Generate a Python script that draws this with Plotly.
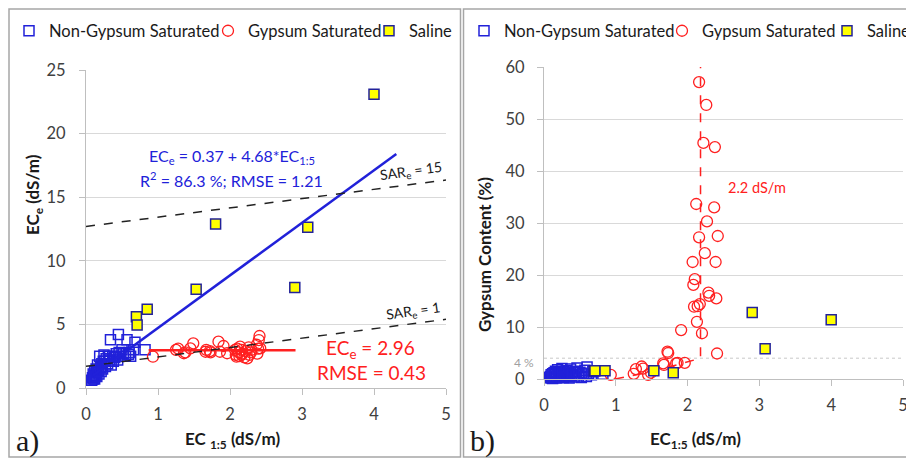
import plotly.graph_objects as go

# ---------------- data ----------------
# Non-gypsum saturated samples
ng_ec15 = [0.08, 0.09, 0.10, 0.10, 0.11, 0.12, 0.12, 0.13, 0.14, 0.15,
           0.15, 0.16, 0.17, 0.18, 0.19, 0.20, 0.21, 0.22, 0.23, 0.24,
           0.25, 0.26, 0.27, 0.28, 0.30, 0.31, 0.33, 0.34, 0.35, 0.37,
           0.38, 0.40, 0.42, 0.44, 0.45, 0.46, 0.48, 0.50, 0.52, 0.55,
           0.57, 0.59, 0.60, 0.62, 0.66, 0.68, 0.82]
ng_ece = [0.6, 0.8, 0.7, 1.1, 0.9, 1.3, 0.7, 1.0, 1.5, 0.9,
          1.2, 1.8, 1.4, 1.1, 2.5, 1.6, 1.3, 1.9, 1.5, 2.1,
          2.6, 2.1, 1.7, 2.3, 1.9, 2.5, 2.2, 3.8, 1.8, 2.5,
          2.1, 2.4, 2.7, 2.2, 4.2, 2.8, 2.5, 3.0, 2.7, 2.5,
          3.8, 2.65, 2.8, 2.5, 3.0, 3.6, 3.0]
ng_gyp = [0.3, 0.5, 0.2, 0.8, 0.4, 1.0, 0.1, 0.6, 1.2, 0.3,
          0.9, 1.5, 0.5, 0.2, 1.8, 0.7, 1.1, 0.4, 1.3, 0.6,
          2.0, 0.9, 0.3, 1.4, 0.8, 1.6, 0.5, 1.1, 0.2, 1.9,
          0.7, 1.2, 0.4, 1.5, 0.9, 2.1, 0.6, 1.3, 0.3, 1.0,
          1.7, 0.5, 2.3, 1.1, 0.8, 1.4, 0.9]

# Gypsum saturated samples
gs_ec15 = [0.93, 1.25, 1.28, 1.36, 1.38, 1.45, 1.49, 1.66, 1.67, 1.72,
           1.73, 1.84, 1.86, 1.91, 1.96, 2.07, 2.08, 2.09, 2.10, 2.12,
           2.13, 2.14, 2.16, 2.16, 2.17, 2.20, 2.22, 2.24, 2.26, 2.27,
           2.29, 2.30, 2.37, 2.38, 2.39, 2.40, 2.41, 2.42]
gs_ece = [2.46, 3.0, 3.1, 2.73, 2.8, 3.12, 3.51, 2.85, 3.0, 2.9,
          2.8, 3.64, 2.85, 3.3, 2.73, 2.99, 2.6, 2.46, 3.1, 2.8,
          2.5, 3.25, 2.6, 3.0, 2.7, 2.4, 2.9, 2.33, 3.2, 2.6,
          2.8, 3.0, 3.4, 2.7, 3.1, 3.77, 4.09, 3.12]
gs_gyp = [0.8, 1.0, 1.9, 2.4, 2.0, 0.8, 1.2, 3.0, 2.7, 5.25,
          5.0, 3.0, 3.1, 9.4, 3.1, 22.5, 18.1, 13.9, 19.2, 33.65,
          11.0, 14.0, 57.1, 27.25, 14.4, 8.8, 45.4, 24.2, 52.7, 30.3,
          16.6, 16.0, 33.0, 44.6, 22.5, 15.5, 4.9, 27.5]

# Saline samples
sal_ec15 = [0.70, 0.71, 0.85, 1.53, 1.80, 2.90, 3.08, 4.00]
sal_ece = [5.6, 4.95, 6.2, 7.76, 12.9, 7.9, 12.63, 23.1]
sal_gyp = [1.6, 1.6, 1.6, 1.6, 1.2, 12.8, 5.8, 11.4]

# Lines
fit_x = [0.10, 4.31]
fit_y = [1.0, 18.4]
mean_x = [0.87, 2.91]
mean_y = [2.96, 2.96]
sar15_x = [0.0, 5.0]
sar15_y = [12.7, 16.35]
sar1_x = [0.0, 5.0]
sar1_y = [1.7, 5.4]
thr_x = [0.99, 1.43, 1.85, 2.13, 2.18, 2.18]
thr_y = [0.0, 1.2, 2.7, 3.8, 4.0, 60.0]
gyp_limit = 4

x_ticks = [0, 1, 2, 3, 4, 5]
y1_ticks = [0, 5, 10, 15, 20, 25]
y2_ticks = [0, 10, 20, 30, 40, 50, 60]

# ---------------- styling ----------------
W, H = 906, 459
FONT = "Lato"
BLUE = "#2121d9"
RED = "#ff2020"
SAL_LINE = "#22229a"
GRID = "#d9d9d9"
AXL = "#bfbfbf"
TXT = "#404040"
DARK = "#1a1a1a"


def fx(p):
    return p / W


def fy(p):
    return 1 - p / H


fig = go.Figure()

# ---- panel a ----
fig.add_trace(go.Scatter(x=ng_ec15, y=ng_ece, mode="markers", name="Non-Gypsum Saturated",
                         marker=dict(symbol="square-open", size=10, color=BLUE, line=dict(width=1.5)),
                         xaxis="x", yaxis="y", legend="legend", cliponaxis=False))
fig.add_trace(go.Scatter(x=gs_ec15, y=gs_ece, mode="markers", name="Gypsum Saturated",
                         marker=dict(symbol="circle-open", size=11, color=RED, line=dict(width=1.3)),
                         xaxis="x", yaxis="y", legend="legend2", cliponaxis=False))
fig.add_trace(go.Scatter(x=sal_ec15, y=sal_ece, mode="markers", name="Saline",
                         marker=dict(symbol="square", size=10, color="#ffff00",
                                     line=dict(width=1.5, color=SAL_LINE)),
                         xaxis="x", yaxis="y", legend="legend3", cliponaxis=False))
fig.add_trace(go.Scatter(x=fit_x, y=fit_y, mode="lines", line=dict(color=BLUE, width=2.5),
                         showlegend=False, xaxis="x", yaxis="y", hoverinfo="skip"))
fig.add_trace(go.Scatter(x=mean_x, y=mean_y, mode="lines", line=dict(color=RED, width=2.5),
                         showlegend=False, xaxis="x", yaxis="y", hoverinfo="skip"))
fig.add_trace(go.Scatter(x=sar15_x, y=sar15_y, mode="lines",
                         line=dict(color="#222222", width=1.5, dash="dash"),
                         showlegend=False, xaxis="x", yaxis="y", hoverinfo="skip"))
fig.add_trace(go.Scatter(x=sar1_x, y=sar1_y, mode="lines",
                         line=dict(color="#222222", width=1.5, dash="dash"),
                         showlegend=False, xaxis="x", yaxis="y", hoverinfo="skip"))

# ---- panel b ----
fig.add_trace(go.Scatter(x=[x_ticks[0], x_ticks[-1]], y=[gyp_limit, gyp_limit], mode="lines",
                         line=dict(color="#c8c8c8", width=1, dash="dot"),
                         showlegend=False, xaxis="x2", yaxis="y2", hoverinfo="skip"))
fig.add_trace(go.Scatter(x=thr_x, y=thr_y, mode="lines",
                         line=dict(color=RED, width=1.5, dash="dash"),
                         showlegend=False, xaxis="x2", yaxis="y2", hoverinfo="skip"))
fig.add_trace(go.Scatter(x=ng_ec15, y=ng_gyp, mode="markers", name="Non-Gypsum Saturated",
                         marker=dict(symbol="square-open", size=10, color=BLUE, line=dict(width=1.5)),
                         xaxis="x2", yaxis="y2", legend="legend4", cliponaxis=False))
fig.add_trace(go.Scatter(x=gs_ec15, y=gs_gyp, mode="markers", name="Gypsum Saturated",
                         marker=dict(symbol="circle-open", size=11, color=RED, line=dict(width=1.3)),
                         xaxis="x2", yaxis="y2", legend="legend5", cliponaxis=False))
fig.add_trace(go.Scatter(x=sal_ec15, y=sal_gyp, mode="markers", name="Saline",
                         marker=dict(symbol="square", size=10, color="#ffff00",
                                     line=dict(width=1.5, color=SAL_LINE)),
                         xaxis="x2", yaxis="y2", legend="legend6", cliponaxis=False))

axis_common = dict(showline=True, linecolor=AXL, linewidth=1, ticks="outside", ticklen=6,
                   tickcolor=AXL, tickfont=dict(family=FONT, size=16.5, color=TXT),
                   zeroline=False, fixedrange=True, ticklabeloverflow="allow")

legend_common = dict(orientation="h", xanchor="left", yanchor="middle",
                     font=dict(family=FONT, size=16.5, color=DARK),
                     bgcolor="rgba(0,0,0,0)", borderwidth=0, itemwidth=30)

leg_y = fy(31)
layout = dict(
    width=W, height=H,
    margin=dict(l=0, r=0, t=0, b=0, autoexpand=False),
    paper_bgcolor="white", plot_bgcolor="white",
    font=dict(family=FONT, color=TXT),
    xaxis=dict(domain=[fx(86), fx(446)], range=[0, 5], tickvals=x_ticks, showgrid=False,
               anchor="y", ticklabelstandoff=5, **axis_common),
    yaxis=dict(domain=[1 - 388 / H, 1 - 70 / H], range=[0, 25], tickvals=y1_ticks, showgrid=True,
               gridcolor=GRID, anchor="x", ticklabelstandoff=10, **axis_common),
    xaxis2=dict(domain=[fx(544), fx(903)], range=[0, 5], tickvals=x_ticks, showgrid=False,
                anchor="y2", ticklabelstandoff=5, **axis_common),
    yaxis2=dict(domain=[1 - 379 / H, 1 - 67 / H], range=[0, 60], tickvals=y2_ticks, showgrid=True,
                gridcolor=GRID, anchor="x2", ticklabelstandoff=9, **axis_common),
    legend=dict(x=fx(33 - 24), y=leg_y, **legend_common),
    legend2=dict(x=fx(232 - 24), y=leg_y, **legend_common),
    legend3=dict(x=fx(393 - 24), y=leg_y, **legend_common),
    legend4=dict(x=fx(488 - 24), y=leg_y, **legend_common),
    legend5=dict(x=fx(686 - 24), y=leg_y, **legend_common),
    legend6=dict(x=fx(851 - 24), y=leg_y, **legend_common),
    showlegend=True,
)
fig.update_layout(**layout)

# frames
frame = dict(color="#a6a6a6", width=1.5)
fig.add_shape(type="rect", xref="paper", yref="paper", x0=fx(9), x1=fx(460.5), y0=fy(457), y1=fy(9),
              line=frame, layer="below")
fig.add_shape(type="rect", xref="paper", yref="paper", x0=fx(463.5), x1=fx(915), y0=fy(457), y1=fy(9),
              line=frame, layer="below")

ann = []


def A(text, x, y, size=15, color=TXT, bold=False, angle=0, family=FONT, xanchor="center"):
    if bold:
        text = "<b>" + text + "</b>"
    ann.append(dict(text=text, x=fx(x), y=fy(y), xref="paper", yref="paper", showarrow=False,
                    xanchor=xanchor, yanchor="middle", textangle=angle,
                    font=dict(family=family, size=size, color=color)))


# panel a texts
A("EC <sub>1:5</sub> (dS/m)", 233, 440, size=17, color=DARK, bold=True)
A("EC<sub>e</sub> (dS/m)", 34, 195, size=17, color=DARK, bold=True, angle=-90)
A("a)", 27, 441, size=30, color=DARK, family="Liberation Serif")
A("EC<sub>e</sub> = 0.37 + 4.68*EC<sub>1:5</sub>", 232, 156, size=16, color=BLUE)
A("R<sup>2</sup> = 86.3 %; RMSE = 1.21", 232, 179, size=16, color=BLUE)
A("SAR<sub>e</sub> = 15", 411, 172, size=14, color=DARK, angle=-8)
A("SAR<sub>e</sub> = 1", 413, 311, size=14, color=DARK, angle=-8)
A("EC<sub>e</sub> = 2.96", 370, 349, size=19, color=RED)
A("RMSE = 0.43", 371, 372, size=19, color=RED)

# panel b texts
A("EC<sub>1:5</sub> (dS/m)", 695, 440, size=17, color=DARK, bold=True)
A("Gypsum Content (%)", 484, 254, size=17, color=DARK, bold=True, angle=-90)
A("b)", 483, 441, size=30, color=DARK, family="Liberation Serif")
A("2.2 dS/m", 757, 188, size=14.5, color=RED)
A("4 %", 524, 362, size=12, color="#a0a0a0")

fig.update_layout(annotations=ann)

fig.write_html("out.html")
